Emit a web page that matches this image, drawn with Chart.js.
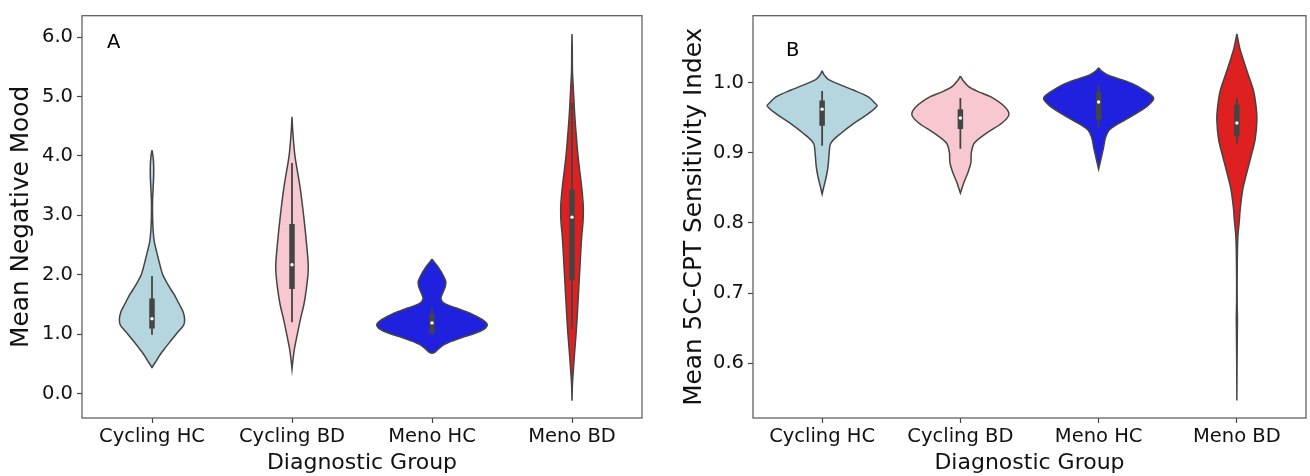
<!DOCTYPE html>
<html><head><meta charset="utf-8">
<script src="https://cdn.jsdelivr.net/npm/chart.js@4.4.0/dist/chart.umd.min.js"></script>
<style>
html,body{margin:0;padding:0;background:#fff;}
#wrap{position:relative;width:1310px;height:476px;overflow:hidden;}
canvas{position:absolute;top:0;}
</style>
</head><body>
<div id="wrap">
<canvas id="chartA" width="655" height="476" style="left:0"></canvas>
<canvas id="chartB" width="655" height="476" style="left:655px"></canvas>
</div>
<script>
// ---------- categories & colours ----------
const categories = ['Cycling HC', 'Cycling BD', 'Meno HC', 'Meno BD'];
const fillColors = ['#b5d5df', '#f7c8d0', '#2020df', '#df2020'];

// ---------- Panel A: Mean Negative Mood (violin outlines: value levels and half-widths in category units) ----------
const moodTicks = [0, 1, 2, 3, 4, 5, 6];
const moodCycHC_y = [4.10, 4.00, 3.85, 3.65, 3.45, 3.25, 3.00, 2.75, 2.55, 2.38, 2.20, 2.00, 1.83, 1.66, 1.50, 1.38, 1.25, 1.15, 1.00, 0.88, 0.77, 0.68, 0.60, 0.52, 0.44];
const moodCycHC_w = [0, 0.007, 0.012, 0.012, 0.008, 0.004, 0.004, 0.008, 0.017, 0.034, 0.053, 0.077, 0.115, 0.160, 0.196, 0.222, 0.233, 0.225, 0.172, 0.131, 0.094, 0.065, 0.043, 0.022, 0];
const moodCycBD_y = [4.66, 4.40, 4.00, 3.50, 3.00, 2.50, 2.17, 2.00, 1.75, 1.50, 1.25, 1.00, 0.75, 0.55, 0.41];
const moodCycBD_w = [0, 0.006, 0.021, 0.056, 0.083, 0.105, 0.116, 0.114, 0.102, 0.085, 0.060, 0.038, 0.017, 0.006, 0];
const moodMenoHC_y = [2.26, 2.15, 2.05, 1.95, 1.88, 1.80, 1.70, 1.60, 1.52, 1.44, 1.38, 1.33, 1.22, 1.145, 1.05, 0.94, 0.83, 0.745, 0.69, 0.68];
const moodMenoHC_w = [0, 0.038, 0.066, 0.088, 0.099, 0.095, 0.078, 0.064, 0.088, 0.174, 0.245, 0.293, 0.374, 0.394, 0.345, 0.209, 0.090, 0.043, 0.017, 0];
const moodMenoBD_y = [6.05, 5.80, 5.44, 5.20, 4.88, 4.60, 4.33, 4.05, 3.77, 3.50, 3.22, 3.10, 2.90, 2.66, 2.40, 2.10, 1.80, 1.55, 1.25, 1.00, 0.70, 0.44, 0.16, -0.12];
const moodMenoBD_w = [0, 0.002, 0.003, 0.008, 0.015, 0.022, 0.031, 0.041, 0.054, 0.068, 0.079, 0.081, 0.079, 0.070, 0.063, 0.056, 0.049, 0.043, 0.036, 0.029, 0.019, 0.011, 0.003, 0];
const moodQ1     = [1.095, 1.76, 1.02, 1.91];
const moodMedian = [1.26, 2.17, 1.19, 2.97];
const moodQ3     = [1.60, 2.855, 1.33, 3.43];
const moodLo     = [0.99, 1.20, 0.99, 1.08];
const moodHi     = [1.98, 3.88, 1.44, 4.89];

// ---------- Panel B: Mean 5C-CPT Sensitivity Index ----------
const sensTicks = [0.6, 0.7, 0.8, 0.9, 1.0];
const sensCycHC_y = [1.017, 1.011, 1.004, 0.9896, 0.980, 0.9708, 0.967, 0.9566, 0.9425, 0.928, 0.914, 0.900, 0.881, 0.867, 0.853, 0.841];
const sensCycHC_w = [0, 0.015, 0.050, 0.225, 0.331, 0.383, 0.398, 0.339, 0.232, 0.137, 0.063, 0.051, 0.043, 0.031, 0.014, 0];
const sensCycBD_y = [1.0093, 1.003, 0.9943, 0.987, 0.980, 0.966, 0.9543, 0.9425, 0.928, 0.914, 0.900, 0.886, 0.872, 0.858, 0.8427];
const sensCycBD_w = [0, 0.020, 0.060, 0.132, 0.218, 0.319, 0.351, 0.301, 0.189, 0.101, 0.079, 0.076, 0.055, 0.026, 0];
const sensMenoHC_y = [1.0212, 1.016, 1.0107, 0.999, 0.987, 0.9778, 0.968, 0.9566, 0.945, 0.933, 0.9213, 0.907, 0.893, 0.8766];
const sensMenoHC_w = [0, 0.024, 0.069, 0.240, 0.348, 0.398, 0.360, 0.276, 0.173, 0.079, 0.049, 0.035, 0.019, 0];
const sensMenoBD_y = [1.0696, 1.05, 1.0367, 1.0131, 0.9896, 0.966, 0.9472, 0.919, 0.8955, 0.872, 0.8483, 0.82, 0.806, 0.7825, 0.759, 0.72, 0.688, 0.6647, 0.6413, 0.594, 0.547];
const sensMenoBD_w = [0, 0.020, 0.040, 0.079, 0.119, 0.139, 0.145, 0.132, 0.103, 0.072, 0.043, 0.024, 0.019, 0.008, 0.004, 0.002, 0.002, 0.004, 0.003, 0.001, 0];
const sensQ1     = [0.9387, 0.934, 0.947, 0.9237];
const sensMedian = [0.9623, 0.9497, 0.9725, 0.9425];
const sensQ3     = [0.9745, 0.9623, 0.9859, 0.9684];
const sensLo     = [0.910, 0.906, 0.9364, 0.913];
const sensHi     = [0.988, 0.978, 0.9966, 0.978];

// ---------- builders ----------
const FONT = 'DejaVu Sans';
const LINE = '#444444';

function buildDatasets(ys, ws, q1, med, q3, lo, hi) {
  const out = [];
  for (let g = 0; g < categories.length; g++) {
    const pts = [];
    for (let k = 0; k < ys[g].length; k++) pts.push({x: g + ws[g][k], y: ys[g][k]});
    for (let k = ys[g].length - 1; k >= 0; k--) pts.push({x: g - ws[g][k], y: ys[g][k]});
    out.push({data: pts, showLine: true, fill: 'shape', backgroundColor: fillColors[g],
      borderColor: LINE, borderWidth: 1.5, pointRadius: 0, tension: 0.3, order: 3});
    out.push({data: [{x: g, y: lo[g]}, {x: g, y: hi[g]}], showLine: true, fill: false,
      borderColor: LINE, borderWidth: 1.8, pointRadius: 0, order: 2});
    out.push({data: [{x: g, y: q1[g]}, {x: g, y: q3[g]}], showLine: true, fill: false,
      borderColor: LINE, borderWidth: 5.5, borderCapStyle: 'butt', pointRadius: 0, order: 1});
    out.push({data: [{x: g, y: med[g]}], showLine: false, pointRadius: 1.7,
      pointBackgroundColor: '#ffffff', pointBorderWidth: 0, order: 0});
  }
  return out;
}

const framePlugin = {
  id: 'frame',
  afterDraw(chart, args, opts) {
    const {ctx, chartArea: a} = chart;
    ctx.save();
    ctx.strokeStyle = '#555555';
    ctx.lineWidth = 1.2;
    ctx.strokeRect(a.left, a.top, a.right - a.left, a.bottom - a.top);
    ctx.fillStyle = '#000';
    ctx.font = '19.5px "' + FONT + '"';
    ctx.textBaseline = 'alphabetic';
    ctx.textAlign = 'left';
    ctx.fillText(opts.letter, a.left + opts.dx, a.top + opts.dy);
    ctx.restore();
  }
};

function makeChart(id, datasets, cfg) {
  return new Chart(document.getElementById(id), {
    type: 'scatter',
    data: {datasets},
    plugins: [framePlugin],
    options: {
      responsive: false, animation: false, devicePixelRatio: 1,
      layout: {padding: {top: 12, right: cfg.padRight, bottom: 0, left: 0}},
      plugins: {legend: {display: false}, tooltip: {enabled: false},
        frame: {letter: cfg.letter, dx: cfg.letterDx, dy: cfg.letterDy}},
      scales: {
        x: {
          type: 'linear', min: -0.5, max: 3.5,
          afterBuildTicks: s => { s.ticks = categories.map((c, i) => ({value: i})); },
          afterFit: s => { s.height = 58; },
          ticks: {callback: v => categories[v], font: {family: FONT, size: 19.5}, color: '#111',
            padding: 2, maxRotation: 0, autoSkip: false},
          grid: {drawOnChartArea: false, drawTicks: true, tickLength: 5, tickColor: LINE, tickWidth: 1.2},
          border: {display: false},
          title: {display: true, text: 'Diagnostic Group', font: {family: FONT, size: 22}, color: '#111',
            padding: {top: 0, bottom: 0}}
        },
        y: {
          type: 'linear', min: cfg.yMin, max: cfg.yMax,
          afterBuildTicks: s => { s.ticks = cfg.yTicks.map(v => ({value: v})); },
          afterFit: s => { s.width = cfg.yWidth; },
          ticks: {callback: v => Number(v).toFixed(1), font: {family: FONT, size: 19.5}, color: '#111', padding: 4},
          grid: {drawOnChartArea: false, drawTicks: true, tickLength: 5, tickColor: LINE, tickWidth: 1.2},
          border: {display: false},
          title: {display: true, text: cfg.yTitle, font: {family: FONT, size: 24.8}, color: '#111',
            padding: {top: cfg.yTitlePad, bottom: 0}}
        }
      }
    }
  });
}

makeChart('chartA',
  buildDatasets([moodCycHC_y, moodCycBD_y, moodMenoHC_y, moodMenoBD_y],
                [moodCycHC_w, moodCycBD_w, moodMenoHC_w, moodMenoBD_w],
                moodQ1, moodMedian, moodQ3, moodLo, moodHi),
  {yMin: -0.41, yMax: 6.36, yTicks: moodTicks, yWidth: 82, padRight: 13,
   yTitle: 'Mean Negative Mood', yTitlePad: 6.7, letter: 'A', letterDx: 25, letterDy: 32.5});

makeChart('chartB',
  buildDatasets([sensCycHC_y, sensCycBD_y, sensMenoHC_y, sensMenoBD_y],
                [sensCycHC_w, sensCycBD_w, sensMenoHC_w, sensMenoBD_w],
                sensQ1, sensMedian, sensQ3, sensLo, sensHi),
  {yMin: 0.522, yMax: 1.0955, yTicks: sensTicks, yWidth: 98, padRight: 1,
   yTitle: 'Mean 5C-CPT Sensitivity Index', yTitlePad: 24.7, letter: 'B', letterDx: 33, letterDy: 40.7});
</script>
</body></html>
